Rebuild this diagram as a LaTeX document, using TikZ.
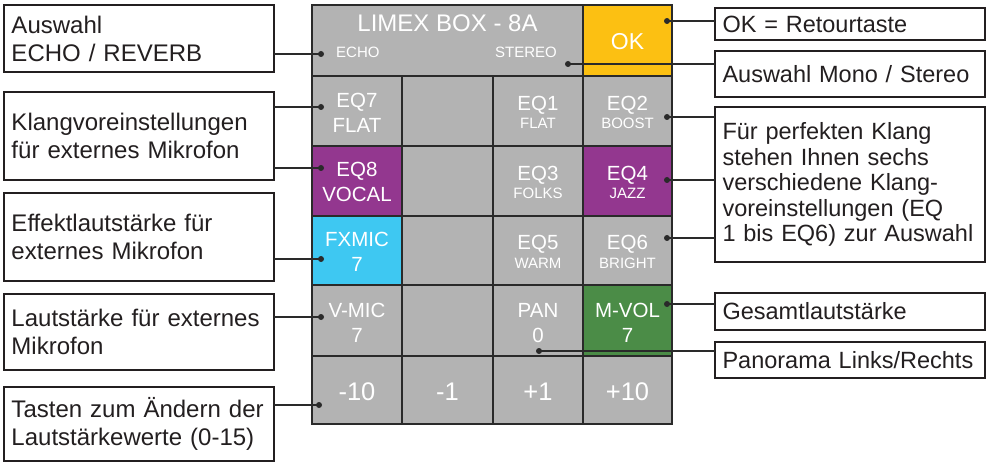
\documentclass[tikz,border=0pt]{standalone}
\usepackage{fontspec}
\setmainfont{Liberation Sans}
\definecolor{cgray}{HTML}{B3B3B3}
\definecolor{cyel}{HTML}{FCC012}
\definecolor{cpur}{HTML}{93378F}
\definecolor{ccyan}{HTML}{3EC8F2}
\definecolor{cgreen}{HTML}{4B8C47}
\definecolor{cline}{HTML}{2A2A2A}
\definecolor{ctext}{HTML}{231F20}
\tikzset{
 cell/.style={draw=cline, line width=2.5pt, fill=cgray, anchor=north west, inner sep=0pt, outer sep=0pt},
 big/.style={text=white, font=\fontsize{20.5}{24}\selectfont, anchor=base, inner sep=0pt},
 small/.style={text=white, font=\fontsize{15}{18}\selectfont, anchor=base, inner sep=0pt},
 huge/.style={text=white, font=\fontsize{24}{28}\selectfont, anchor=base, inner sep=0pt},
 labelbox/.style={draw=ctext, line width=2.3pt, fill=white, anchor=north west, text=ctext, align=left,
   font=\fontsize{24}{28}\selectfont, inner xsep=7.5pt, inner ysep=0pt, outer sep=0pt, text width=255pt},
 rlabel/.style={labelbox, font=\fontsize{23.5}{28}\selectfont},
 conn/.style={draw=cline, line width=2pt},
 dot/.style={fill=cline}
}
\begin{document}
\begin{tikzpicture}[x=1pt,y=-1pt]
\useasboundingbox (0,0) rectangle (987,462);
% cells
\node[cell, minimum width=271pt, minimum height=71pt] (title) at (312,5) {};
\node[cell, fill=cyel, minimum width=89pt, minimum height=71pt] (ok) at (583,5) {};
\node[cell, minimum width=90pt, minimum height=70pt] (eq7) at (312,76) {};
\node[cell, minimum width=91pt, minimum height=70pt] (r2c2) at (402,76) {};
\node[cell, minimum width=90pt, minimum height=70pt] (eq1) at (493,76) {};
\node[cell, minimum width=89pt, minimum height=70pt] (eq2) at (583,76) {};
\node[cell, fill=cpur, minimum width=90pt, minimum height=70pt] (eq8) at (312,146) {};
\node[cell, minimum width=91pt, minimum height=70pt] (r3c2) at (402,146) {};
\node[cell, minimum width=90pt, minimum height=70pt] (eq3) at (493,146) {};
\node[cell, fill=cpur, minimum width=89pt, minimum height=70pt] (eq4) at (583,146) {};
\node[cell, fill=ccyan, minimum width=90pt, minimum height=69pt] (fxmic) at (312,216) {};
\node[cell, minimum width=91pt, minimum height=69pt] (r4c2) at (402,216) {};
\node[cell, minimum width=90pt, minimum height=69pt] (eq5) at (493,216) {};
\node[cell, minimum width=89pt, minimum height=69pt] (eq6) at (583,216) {};
\node[cell, minimum width=90pt, minimum height=71pt] (vmic) at (312,285) {};
\node[cell, minimum width=91pt, minimum height=71pt] (r5c2) at (402,285) {};
\node[cell, minimum width=90pt, minimum height=71pt] (pan) at (493,285) {};
\node[cell, fill=cgreen, minimum width=89pt, minimum height=71pt] (mvol) at (583,285) {};
\node[cell, minimum width=90pt, minimum height=68pt] (m10) at (312,356) {};
\node[cell, minimum width=91pt, minimum height=68pt] (m1) at (402,356) {};
\node[cell, minimum width=90pt, minimum height=68pt] (p1) at (493,356) {};
\node[cell, minimum width=89pt, minimum height=68pt] (p10) at (583,356) {};
% cell texts
\node[huge] (tTitle) at (447.5,32) {LIMEX BOX - 8A};
\node[small, anchor=base west] (tEcho) at (336,58) {ECHO};
\node[small, anchor=base east] (tStereo) at (557,58) {STEREO};
\node[huge, font=\fontsize{23}{27}\selectfont] (tOK) at (627.5,50) {OK};
\node[big] (tEQ7) at (357,108) {EQ7};
\node[big] (tEQ7b) at (357,133) {FLAT};
\node[big] (tEQ1) at (538,111) {EQ1};
\node[small] (tEQ1b) at (538,129) {FLAT};
\node[big] (tEQ2) at (627.5,111) {EQ2};
\node[small] (tEQ2b) at (627.5,129) {BOOST};
\node[big] (tEQ8) at (357,177) {EQ8};
\node[big] (tEQ8b) at (357,202) {VOCAL};
\node[big] (tEQ3) at (538,181) {EQ3};
\node[small] (tEQ3b) at (538,199) {FOLKS};
\node[big] (tEQ4) at (627.5,181) {EQ4};
\node[small] (tEQ4b) at (627.5,199) {JAZZ};
\node[big] (tFX) at (357,247) {FXMIC};
\node[big] (tFXb) at (357,272) {7};
\node[big] (tEQ5) at (538,250) {EQ5};
\node[small] (tEQ5b) at (538,269) {WARM};
\node[big] (tEQ6) at (627.5,250) {EQ6};
\node[small] (tEQ6b) at (627.5,269) {BRIGHT};
\node[big] (tVM) at (357,317) {V-MIC};
\node[big] (tVMb) at (357,342) {7};
\node[big] (tPAN) at (538,317) {PAN};
\node[big] (tPANb) at (538,342) {0};
\node[big] (tMV) at (627.5,317) {M-VOL};
\node[big] (tMVb) at (627.5,342) {7};
\node[huge, font=\fontsize{25.5}{30}\selectfont] (tm10) at (357,400) {-10};
\node[huge, font=\fontsize{25.5}{30}\selectfont] (tm1) at (447.5,400) {-1};
\node[huge, font=\fontsize{25.5}{30}\selectfont] (tp1) at (538,400) {+1};
\node[huge, font=\fontsize{25.5}{30}\selectfont] (tp10) at (627.5,400) {+10};
% label boxes left
\node[labelbox, minimum height=67pt] (lb1) at (4,5) {Auswahl\\ECHO / REVERB};
\node[labelbox, minimum height=88pt] (lb2) at (4,92) {Klangvoreinstellungen\\f\"ur externes Mikrofon};
\node[labelbox, minimum height=88pt] (lb3) at (4,193) {Effektlautst\"arke f\"ur\\externes Mikrofon};
\node[labelbox, minimum height=76pt] (lb4) at (4,294) {Lautst\"arke f\"ur externes\\Mikrofon};
\node[labelbox, minimum height=74pt] (lb5) at (4,387) {Tasten zum \"Andern der\\Lautst\"arkewerte (0-15)};
% label boxes right
\node[rlabel, minimum height=32pt] (rb1) at (715,8) {OK = Retourtaste};
\node[rlabel, minimum height=46pt] (rb2) at (715,51) {Auswahl Mono / Stereo};
\node[rlabel, minimum height=155pt, font=\fontsize{23.5}{25.5}\selectfont] (rb3) at (715,107) {F\"ur perfekten Klang\\stehen Ihnen sechs\\verschiedene Klang-\\voreinstellungen (EQ\\1 bis EQ6) zur Auswahl};
\node[rlabel, minimum height=37pt] (rb4) at (715,293) {Gesamtlautst\"arke};
\node[rlabel, minimum height=36pt] (rb5) at (715,342) {Panorama Links/Rechts};
% dot coordinates
\coordinate (dEcho) at (321,54);
\coordinate (dEQ7) at (321,107);
\coordinate (dEQ8) at (321,168);
\coordinate (dFX) at (321,259);
\coordinate (dVM) at (321,317);
\coordinate (dM10) at (319,405);
\coordinate (dOK) at (667,21);
\coordinate (dStereo) at (568,64);
\coordinate (dEQ2) at (667,117);
\coordinate (dEQ4) at (667,180);
\coordinate (dEQ6) at (667,238);
\coordinate (dMV) at (667,304);
\coordinate (dPAN) at (539,351);
% connectors
\draw[conn] (lb1.east |- dEcho) -- (dEcho);
\draw[conn] (lb2.east |- dEQ7) -- (dEQ7);
\draw[conn] (lb2.east |- dEQ8) -- (dEQ8);
\draw[conn] (lb3.east |- dFX) -- (dFX);
\draw[conn] (lb4.east |- dVM) -- (dVM);
\draw[conn] (lb5.east |- dM10) -- (dM10);
\draw[conn] (dOK) -- (dOK -| rb1.west);
\draw[conn] (dStereo) -- (dStereo -| rb2.west);
\draw[conn] (dEQ2) -- (dEQ2 -| rb3.west);
\draw[conn] (dEQ4) -- (dEQ4 -| rb3.west);
\draw[conn] (dEQ6) -- (dEQ6 -| rb3.west);
\draw[conn] (dMV) -- (dMV -| rb4.west);
\draw[conn] (dPAN) -- (dPAN -| rb5.west);
\foreach \d in {dEcho,dEQ7,dEQ8,dFX,dVM,dM10,dOK,dStereo,dEQ2,dEQ4,dEQ6,dMV,dPAN}
  \fill[dot] (\d) circle (3pt);
\end{tikzpicture}
\end{document}
